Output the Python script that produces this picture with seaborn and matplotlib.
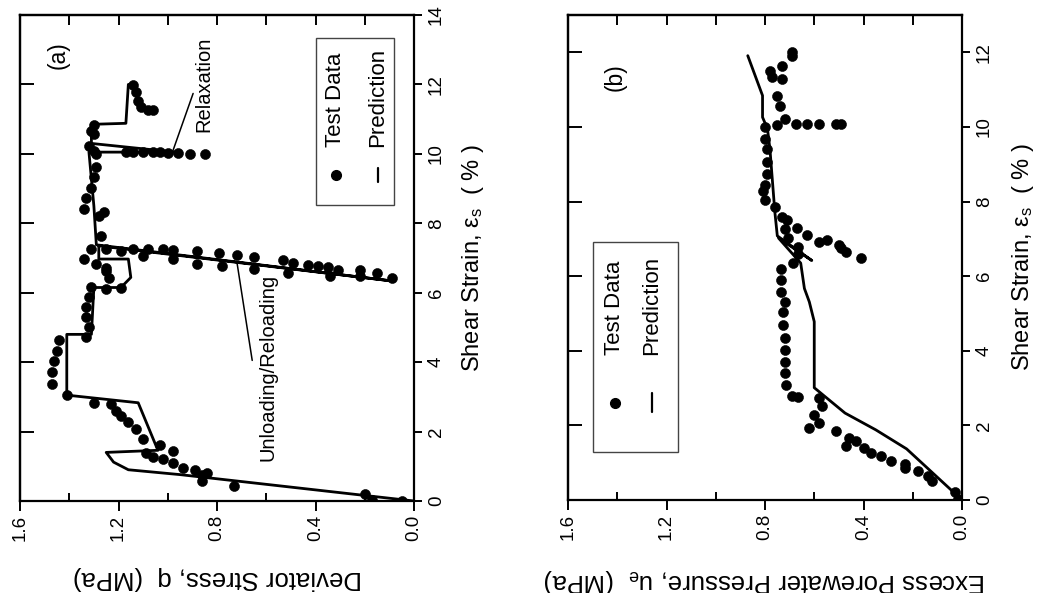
import numpy as np
import pandas as pd
import matplotlib
matplotlib.use("Agg")
import matplotlib.pyplot as plt
import seaborn as sns
from matplotlib.patches import Rectangle
from matplotlib.lines import Line2D

# ---------------- data: panel (a) ----------------
a_test_strain = [0.00, 0.02, 0.20, 0.42, 0.57, 0.76, 0.81, 0.88, 0.95, 1.09, 1.21, 1.27, 1.38, 1.43, 1.62,
                 1.78, 2.07, 2.29, 2.45, 2.60, 2.79, 2.81, 3.05, 3.37, 3.72, 4.03, 4.32, 4.63, 4.72, 5.01,
                 5.30, 5.60, 5.87, 6.17, 6.11, 6.14, 6.42, 6.63, 6.71, 6.84, 6.97, 7.25, 7.25,
                 7.19, 7.25, 7.06, 7.25, 7.25, 7.23, 6.97, 7.19, 6.84, 7.13, 6.78, 7.09, 7.03, 6.68,
                 6.94, 6.87, 6.58, 6.80, 6.78, 6.75, 6.65, 6.49, 6.65, 6.49, 6.56, 6.42,
                 7.64, 8.20, 8.33, 8.40, 8.72, 9.02, 9.33, 9.61, 10.00,
                 10.00, 10.00, 10.02, 10.03, 10.05, 10.05, 10.05, 10.05, 10.05,
                 10.24, 10.07, 10.57, 10.66, 10.82, 11.27, 11.27, 11.36, 11.52, 11.79, 11.98]
a_test_q = [0.05, 0.17, 0.20, 0.73, 0.86, 0.86, 0.84, 0.89, 0.94, 0.98, 1.02, 1.06, 1.09, 0.98, 1.03,
            1.10, 1.13, 1.16, 1.19, 1.21, 1.23, 1.30, 1.41, 1.47, 1.47, 1.46, 1.45, 1.44, 1.33, 1.32,
            1.33, 1.33, 1.32, 1.31, 1.25, 1.19, 1.24, 1.25, 1.25, 1.29, 1.34, 1.31, 1.25,
            1.19, 1.14, 1.10, 1.08, 1.02, 0.98, 0.98, 0.88, 0.88, 0.79, 0.78, 0.72, 0.65, 0.65,
            0.53, 0.49, 0.51, 0.43, 0.39, 0.35, 0.31, 0.34, 0.22, 0.22, 0.15, 0.09,
            1.27, 1.28, 1.26, 1.34, 1.33, 1.31, 1.30, 1.29, 1.29,
            0.85, 0.91, 0.96, 1.00, 1.03, 1.06, 1.10, 1.14, 1.17,
            1.32, 1.30, 1.30, 1.31, 1.30, 1.06, 1.08, 1.11, 1.12, 1.13, 1.14]

a_pred_strain = [0.00, 0.76, 0.90, 1.12, 1.40, 1.46, 2.83, 3.05, 4.80, 4.80, 6.15, 6.15, 6.44, 6.97, 6.97,
                 7.35, 6.33, 7.38, 8.50, 10.05, 10.05, 10.30, 10.85, 10.88, 12.00, 12.00]
a_pred_q = [0.00, 0.95, 1.16, 1.22, 1.25, 1.04, 1.12, 1.41, 1.41, 1.31, 1.30, 1.19, 1.15, 1.16, 1.28,
            1.28, 0.08, 1.29, 1.30, 1.32, 0.97, 1.31, 1.31, 1.17, 1.16, 1.14]

# ---------------- data: panel (b) ----------------
b_test_strain = [0.03, 0.21, 0.50, 0.63, 0.77, 0.86, 0.96, 1.05, 1.17, 1.26, 1.39, 1.46, 1.57, 1.66, 1.84,
                 1.93, 2.06, 2.28, 2.51, 2.73, 2.77, 2.80, 3.08, 3.40, 3.71, 4.02, 4.33, 4.69, 5.04, 5.31,
                 5.58, 5.90, 6.18, 6.34, 6.60, 6.78, 7.02, 6.49, 6.65, 6.76, 6.83, 6.96, 6.92, 7.11, 7.29,
                 7.27, 7.50, 7.59, 7.85, 8.03, 8.27, 8.43, 8.74, 9.07, 9.41, 9.68, 9.99, 10.05, 10.08,
                 10.08, 10.08, 10.08, 10.08, 10.21, 10.57, 10.84, 11.28, 11.33, 11.50, 11.64, 11.90, 12.00]
b_test_u = [0.015, 0.03, 0.12, 0.14, 0.18, 0.23, 0.23, 0.29, 0.33, 0.37, 0.40, 0.47, 0.43, 0.46, 0.51,
            0.62, 0.58, 0.60, 0.57, 0.58, 0.665, 0.69, 0.715, 0.72, 0.72, 0.72, 0.72, 0.725, 0.725, 0.72,
            0.735, 0.735, 0.735, 0.685, 0.665, 0.665, 0.705, 0.41, 0.47, 0.49, 0.50, 0.55, 0.58, 0.63, 0.67,
            0.72, 0.71, 0.73, 0.76, 0.80, 0.81, 0.80, 0.79, 0.79, 0.79, 0.80, 0.80, 0.75, 0.675,
            0.63, 0.58, 0.51, 0.49, 0.72, 0.74, 0.75, 0.73, 0.77, 0.78, 0.73, 0.69, 0.69]

b_pred_strain = [0.00, 1.37, 1.88, 2.33, 3.01, 4.78, 5.31, 5.67, 6.35, 7.02, 6.42, 7.08, 7.72, 9.41, 9.95,
                 10.26, 10.84, 11.91]
b_pred_u = [0.00, 0.225, 0.35, 0.475, 0.60, 0.60, 0.62, 0.64, 0.655, 0.745, 0.61, 0.75, 0.76, 0.78, 0.79,
            0.81, 0.81, 0.87]

q_ticks = [0.0, 0.4, 0.8, 1.2, 1.6]
q_minor = [0.2, 0.6, 1.0, 1.4]
strain_ticks_a = [0, 2, 4, 6, 8, 10, 12, 14]
strain_ticks_b = [0, 2, 4, 6, 8, 10, 12]

legend_labels = ["Test Data", "Prediction"]

# ---------------- style ----------------
sns.set_theme(style="ticks")
plt.rcParams["font.family"] = ["Liberation Sans", "DejaVu Sans"]
plt.rcParams["mathtext.fontset"] = "custom"
plt.rcParams["mathtext.rm"] = "Liberation Sans"
plt.rcParams["mathtext.it"] = "Liberation Sans"
plt.rcParams["text.color"] = "black"
plt.rcParams["axes.labelcolor"] = "black"
plt.rcParams["xtick.color"] = "black"
plt.rcParams["ytick.color"] = "black"
plt.rcParams["axes.edgecolor"] = "black"

fig = plt.figure(figsize=(10.5, 5.93), dpi=100)
W, H = 1050, 593


def make_axes(x0, x1, y0, y1):
    return fig.add_axes([x0 / W, 1 - y1 / H, (x1 - x0) / W, (y1 - y0) / H])


axA = make_axes(20, 414, 15, 501)
axB = make_axes(568, 962, 15, 500)

dfA_t = pd.DataFrame({"q": a_test_q, "strain": a_test_strain})
dfA_p = pd.DataFrame({"q": a_pred_q, "strain": a_pred_strain})
dfB_t = pd.DataFrame({"u": b_test_u, "strain": b_test_strain})
dfB_p = pd.DataFrame({"u": b_pred_u, "strain": b_pred_strain})

sns.lineplot(data=dfA_p, x="q", y="strain", sort=False, estimator=None, color="black",
             linewidth=2.0, ax=axA, legend=False, zorder=2)
sns.scatterplot(data=dfA_t, x="q", y="strain", color="black", s=52, edgecolor="black",
                linewidth=0.4, ax=axA, legend=False, zorder=3)
sns.lineplot(data=dfB_p, x="u", y="strain", sort=False, estimator=None, color="black",
             linewidth=2.0, ax=axB, legend=False, zorder=2)
sns.scatterplot(data=dfB_t, x="u", y="strain", color="black", s=52, edgecolor="black",
                linewidth=0.4, ax=axB, legend=False, zorder=3)


def style_axes(ax, ymax, yticks, xlabel, ylabel, xlab_y, ylab_x):
    ax.set_xlim(1.6, 0.0)
    ax.set_ylim(0, ymax)
    for sp in ax.spines.values():
        sp.set_linewidth(1.6)
        sp.set_color("black")
    ax.set_xticks(q_ticks)
    ax.set_xticklabels([f"{v:.1f}" for v in q_ticks], rotation=90, fontsize=13.5)
    ax.set_xticks(q_minor, minor=True)
    ax.tick_params(axis="x", which="major", direction="out", length=7, width=1.4, pad=3,
                   bottom=True, top=False, colors="black")
    ax.tick_params(axis="x", which="minor", direction="in", length=6, width=1.4,
                   bottom=True, top=False)
    ax.yaxis.tick_right()
    ax.set_yticks(yticks)
    ax.set_yticklabels([str(v) for v in yticks], rotation=90, va="center", fontsize=13.5)
    ax.tick_params(axis="y", which="major", direction="out", length=6, width=1.4, pad=4,
                   right=True, left=False, colors="black")
    # mirrored inward ticks
    top = ax.secondary_xaxis("top")
    top.set_xticks(q_ticks + q_minor)
    top.tick_params(direction="in", length=7, width=1.4, labeltop=False)
    top.spines["top"].set_linewidth(1.6)
    left = ax.secondary_yaxis("left")
    left.set_yticks([t for t in yticks if 0 < t < ymax])
    left.tick_params(direction="in", length=10, width=1.4, labelleft=False)
    left.spines["left"].set_linewidth(1.6)

    ax.set_xlabel(xlabel, rotation=180, fontsize=18.5, va="center", ha="center", color="black")
    ax.xaxis.set_label_coords(0.5, xlab_y)
    ax.yaxis.set_label_position("right")
    ax.set_ylabel(ylabel, rotation=90, fontsize=17, va="center", ha="center", color="black")
    ax.yaxis.set_label_coords(ylab_x, 0.5)


style_axes(axA, 14, strain_ticks_a, "Deviator Stress, q  (MPa)",
           "Shear Strain, ε$_\\mathregular{s}$  ( % )", -0.158, 1.15)
style_axes(axB, 13, strain_ticks_b, "Excess Porewater Pressure, u$_\\mathregular{e}$  (MPa)",
           "Shear Strain, ε$_\\mathregular{s}$  ( % )", -0.167, 1.155)

# panel tags
axA.text(0.097, 0.918, "(a)", transform=axA.transAxes, rotation=90, fontsize=16.5,
         ha="center", va="center")
axB.text(0.119, 0.872, "(b)", transform=axB.transAxes, rotation=90, fontsize=16.5,
         ha="center", va="center")

# annotations in panel (a)
axA.annotate("", xy=(0.98, 10.07), xytext=(0.897, 11.74),
             arrowprops=dict(arrowstyle="-", lw=1.1, color="black", shrinkA=0, shrinkB=0))
axA.text(0.855, 12.0, "Relaxation", rotation=90, fontsize=14.5, ha="center", va="center")
axA.annotate("", xy=(0.718, 6.83), xytext=(0.657, 4.05),
             arrowprops=dict(arrowstyle="-", lw=1.1, color="black", shrinkA=0, shrinkB=0))
axA.text(0.594, 3.85, "Unloading/Reloading", rotation=90, fontsize=14.5, ha="center", va="center")


# manual rotated legends
def rotated_legend(ax, box, mx, lx, ty, my, ly0, ly1):
    x0, x1, y0, y1 = box
    ax.add_patch(Rectangle((x0, y0), x1 - x0, y1 - y0, transform=ax.transAxes, fill=False,
                           edgecolor="#444444", linewidth=1.0, zorder=4))
    ax.add_line(Line2D([mx], [my], marker="o", markersize=7, color="black", linestyle="none",
                       transform=ax.transAxes, zorder=5))
    ax.add_line(Line2D([lx, lx], [ly0, ly1], color="black", linewidth=1.6,
                       transform=ax.transAxes, zorder=5))
    ax.text(mx, ty, legend_labels[0], transform=ax.transAxes, rotation=90, fontsize=16,
            ha="center", va="bottom", zorder=5)
    ax.text(lx, ty, legend_labels[1], transform=ax.transAxes, rotation=90, fontsize=16,
            ha="center", va="bottom", zorder=5)


rotated_legend(axA, (0.751, 0.949, 0.609, 0.953), 0.802, 0.908, 0.728, 0.671, 0.657, 0.686)
rotated_legend(axB, (0.063, 0.279, 0.099, 0.532), 0.119, 0.213, 0.299, 0.200, 0.181, 0.221)

fig.savefig("out.png", dpi=100)
